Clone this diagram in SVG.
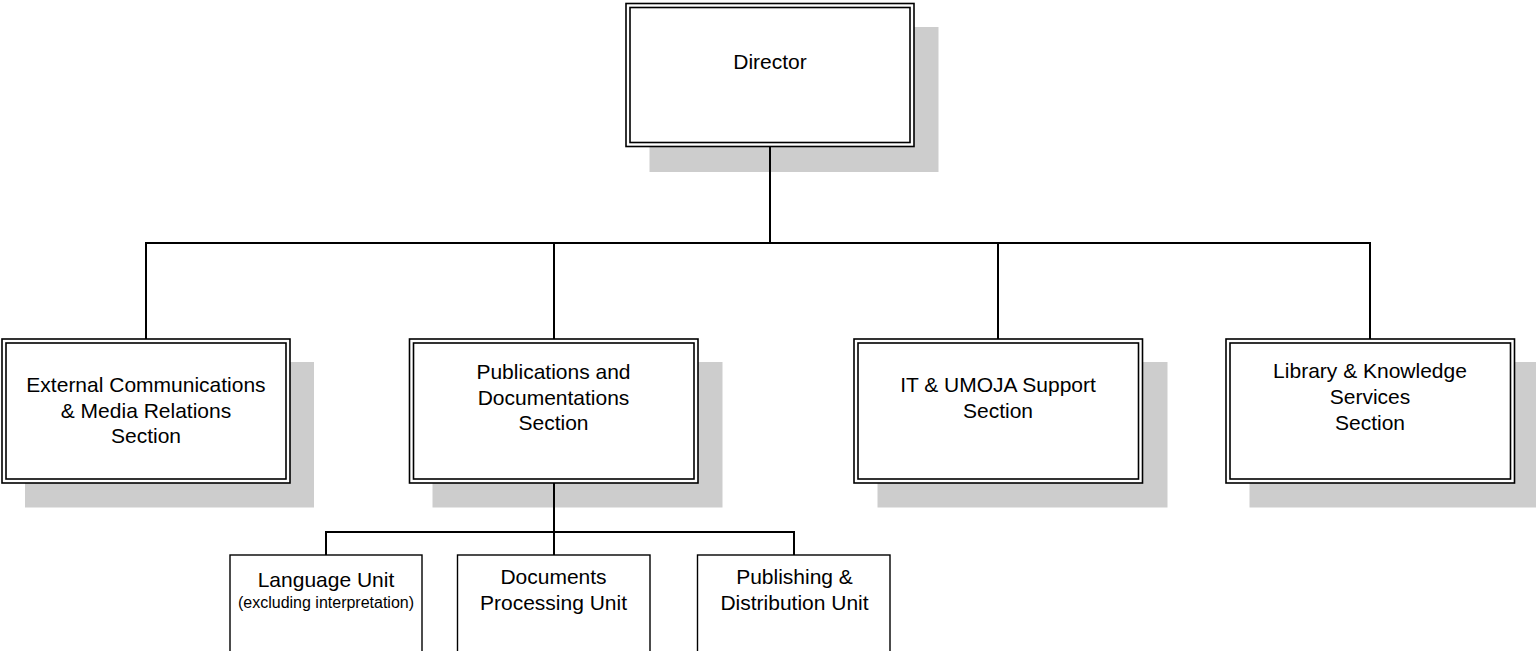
<svg xmlns="http://www.w3.org/2000/svg" width="1536" height="651" viewBox="0 0 1536 651">
  <style>
    .shadow { fill: #cdcdcd; stroke: none; }
    .outer { fill: #ffffff; stroke: #000000; stroke-width: 1.6; }
    .inner { fill: none; stroke: #000000; stroke-width: 1.6; }
    .unit { fill: #ffffff; stroke: #000000; stroke-width: 1.4; }
    .wire { fill: none; stroke: #000000; stroke-width: 2; }
    text { font-family: "Liberation Sans", Arial, sans-serif; font-size: 21px; fill: #000000; text-anchor: middle; }
    .small { font-size: 16px; }
  </style>

  <rect width="1536" height="651" fill="#ffffff"/>

  <!-- Director -->
  <g id="director">
    <rect class="shadow" x="649.5" y="27" width="289" height="145"/>
    <rect class="outer" x="626" y="3.5" width="288" height="143"/>
    <rect class="inner" x="630" y="7.5" width="280" height="135"/>
    <text x="770" y="69">Director</text>
  </g>

  <!-- External Communications & Media Relations Section -->
  <g id="external-communications">
    <rect class="shadow" x="25" y="362" width="289" height="145.5"/>
    <rect class="outer" x="2" y="339" width="288" height="144"/>
    <rect class="inner" x="6" y="343" width="280" height="136"/>
    <text x="146" y="392">External Communications</text>
    <text x="146" y="417.5">&amp; Media Relations</text>
    <text x="146" y="443">Section</text>
  </g>

  <!-- Publications and Documentations Section -->
  <g id="publications">
    <rect class="shadow" x="432.5" y="362" width="290" height="145.5"/>
    <rect class="outer" x="409.5" y="339" width="288.5" height="144"/>
    <rect class="inner" x="413.5" y="343" width="280.5" height="136"/>
    <text x="553.5" y="379">Publications and</text>
    <text x="553.5" y="404.5">Documentations</text>
    <text x="553.5" y="430">Section</text>
  </g>

  <!-- IT & UMOJA Support Section -->
  <g id="it-umoja">
    <rect class="shadow" x="877.5" y="362" width="290" height="145.5"/>
    <rect class="outer" x="854" y="339" width="288.5" height="144"/>
    <rect class="inner" x="858" y="343" width="280.5" height="136"/>
    <text x="998" y="392">IT &amp; UMOJA Support</text>
    <text x="998" y="417.5">Section</text>
  </g>

  <!-- Library & Knowledge Services Section -->
  <g id="library">
    <rect class="shadow" x="1249.5" y="362" width="290" height="145.5"/>
    <rect class="outer" x="1226" y="339" width="288.5" height="144"/>
    <rect class="inner" x="1230" y="343" width="280.5" height="136"/>
    <text x="1370" y="377.5">Library &amp; Knowledge</text>
    <text x="1370" y="404">Services</text>
    <text x="1370" y="430">Section</text>
  </g>

  <!-- Language Unit -->
  <g id="language-unit">
    <rect class="unit" x="230" y="555" width="192" height="110"/>
    <text x="326" y="587">Language Unit</text>
    <text class="small" x="326" y="608">(excluding interpretation)</text>
  </g>

  <!-- Documents Processing Unit -->
  <g id="documents-processing">
    <rect class="unit" x="457.5" y="555" width="192.5" height="110"/>
    <text x="553.5" y="583.5">Documents</text>
    <text x="553.5" y="610">Processing Unit</text>
  </g>

  <!-- Publishing & Distribution Unit -->
  <g id="publishing-distribution">
    <rect class="unit" x="697.5" y="555" width="192.5" height="110"/>
    <text x="794.5" y="584">Publishing &amp;</text>
    <text x="794.5" y="610">Distribution Unit</text>
  </g>

  <!-- connectors, drawn last so they run across the drop shadows -->
  <g id="connectors">
    <path class="wire" d="M770 147 V243 M146 339 V243 H1370 V339 M554 243 V339 M998 243 V339"/>
    <path class="wire" d="M554 483 V532 M326 555 V532 H794 V555 M554 532 V555"/>
  </g>
</svg>
